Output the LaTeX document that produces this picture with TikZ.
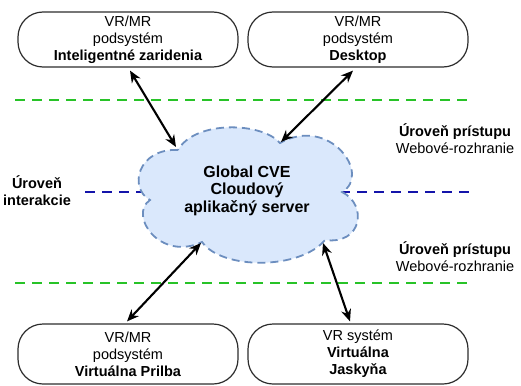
\documentclass[tikz,border=0pt]{standalone}
\usepackage{fontspec}
\setmainfont{Liberation Sans}
\usetikzlibrary{arrows.meta,calc}
\definecolor{nodeline}{RGB}{45,45,45}
\definecolor{cloudfill}{RGB}{218,232,252}
\definecolor{cloudline}{RGB}{108,142,191}
\definecolor{greenline}{RGB}{40,195,40}
\definecolor{blueline}{RGB}{20,20,170}
\begin{document}
\begin{tikzpicture}[x=1pt,y=-1pt,
  sysbox/.style={draw=nodeline, line width=1.2pt, rounded corners=25pt, minimum width=220pt, minimum height=55pt, align=center, font=\fontsize{14.5}{17}\selectfont, inner sep=0pt},
  level/.style={line width=2.2pt, dash pattern=on 10pt off 7pt},
  link/.style={line width=2.1pt, {Stealth[length=12pt,width=10pt]}-{Stealth[length=12pt,width=10pt]}},
  lbl/.style={align=center, font=\fontsize{14.5}{17}\selectfont, inner sep=0pt},
  cloudtext/.style={align=center, font=\fontsize{16}{17.5}\selectfont\bfseries, inner sep=0pt}]
\useasboundingbox (0,0) rectangle (521,385);

% level lines
\draw[level, draw=greenline] (15,100) -- (470,100);
\draw[level, draw=greenline] (15,283) -- (470,283);
\draw[level, draw=blueline] (85,192) -- (470,192);

% cloud
\coordinate (ctl) at (178,150);
\coordinate (cl) at (150,200);
\coordinate (cbl) at (202,242);
\coordinate (cbr) at (325,240);
\coordinate (cr) at (342,192);
\coordinate (ctr) at (280,143);
\draw[draw=cloudline, fill=cloudfill, line width=1.8pt, dash pattern=on 8pt off 5pt]
  (ctl) .. controls (138,148) and (128,188) .. (cl)
        .. controls (128,215) and (160,262) .. (cbl)
        .. controls (222,270) and (300,270) .. (cbr)
        .. controls (362,245) and (368,205) .. (cr)
        .. controls (372,175) and (330,115) .. (ctr)
        .. controls (262,122) and (195,120) .. cycle;
\node[cloudtext] (srv) at (247,190.5) {Global CVE\\Cloudový\\aplikačný server};

% subsystem nodes
\node[sysbox] (A) at (128,39.5) {VR/MR\\podsystém\\\textbf{Inteligentné zaridenia}};
\node[sysbox] (B) at (358,39.5) {VR/MR\\podsystém\\\textbf{Desktop}};
\node[sysbox, minimum height=60pt] (C) at (128,354) {VR/MR\\podsystém\\\textbf{Virtuálna Prilba}};
\node[sysbox, minimum height=60pt] (D) at (358,354) {VR systém\\\textbf{Virtuálna}\\\textbf{Jaskyňa}};

% labels
\node[lbl] (acc1) at (455,138.5) {\textbf{Úroveň prístupu}\\Webové-rozhranie};
\node[lbl] (acc2) at (455,256.5) {\textbf{Úroveň prístupu}\\Webové-rozhranie};
\node[lbl, font=\fontsize{14.5}{17}\selectfont\bfseries] (inter) at (37,191) {Úroveň\\interakcie};

% arrow end coordinates on the cloud
\coordinate (ea) at (176,147);
\coordinate (eb) at (281,142);
\coordinate (ec) at (201,243);
\coordinate (ed) at (323,243);

\draw[link] ($(A.south)+(2,3)$) -- (ea);
\draw[link] ($(B.south)+(-5,3)$) -- (eb);
\draw[link] ($(C.north)+(-1,-2)$) -- (ec);
\draw[link] ($(D.north)+(-8,-2)$) -- (ed);
\end{tikzpicture}
\end{document}
